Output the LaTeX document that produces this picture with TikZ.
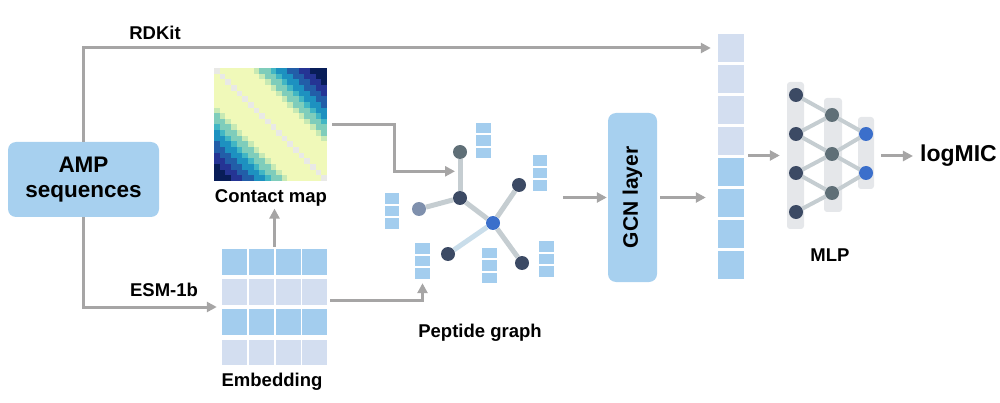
\documentclass[tikz,border=0pt]{standalone}
\usepackage{fontspec}
\setmainfont{Liberation Sans}
\usetikzlibrary{arrows.meta,calc,positioning}

\begin{document}
\begin{tikzpicture}[x=1pt,y=-1pt,
  arr/.style={draw=arrowgray,line width=3pt,-{Triangle[length=10pt,width=10pt]}},
  lbl/.style={font=\fontsize{18.5}{21}\selectfont\bfseries,inner sep=2pt},
  scell/.style={fill=cellblue,minimum width=14.5pt,minimum height=10.5pt,inner sep=0},
  vcell/.style={minimum width=26pt,minimum height=28pt,inner sep=0},
  gnode/.style={circle,minimum size=14pt,inner sep=0},
  gedge/.style={draw=edgegray,line width=5pt},
  mcol/.style={fill=colgray,rounded corners=3pt,inner sep=0}]
\definecolor{boxblue}{HTML}{A7D0EF};
\definecolor{cellblue}{HTML}{A3CDEE};
\definecolor{cellpale}{HTML}{D3DEF0};
\definecolor{arrowgray}{HTML}{A6A5A5};
\definecolor{edgegray}{HTML}{C5CDD1};
\definecolor{edgeblue}{HTML}{C9DDEA};
\definecolor{nodenavy}{HTML}{3C4A64};
\definecolor{nodeslate}{HTML}{5F6F77};
\definecolor{nodelight}{HTML}{7F90AD};
\definecolor{nodeblue}{HTML}{3B6FCB};
\definecolor{colgray}{HTML}{E5E7EA};
\definecolor{cmdiag}{HTML}{E9E9E6};
\definecolor{cmA}{HTML}{F0F9B9};
\definecolor{cmB}{HTML}{C7E9B4};
\definecolor{cmC}{HTML}{7FCDBB};
\definecolor{cmD}{HTML}{41B6C4};
\definecolor{cmE}{HTML}{1D91C0};
\definecolor{cmF}{HTML}{225EA8};
\definecolor{cmG}{HTML}{253494};
\definecolor{cmH}{HTML}{081D58};
\useasboundingbox (0,0) rectangle (1000,403);

% input box
\node [fill=boxblue,rounded corners=8pt,minimum width=151pt,minimum height=75pt,align=center,
  font=\fontsize{22.5}{25}\selectfont\bfseries] (amp) at (83.5,179.5) {AMP\\sequences};

% contact map
\foreach \i in {0,...,19}{
  \foreach \j in {0,...,19}{
    \pgfmathtruncatemacro\d{abs(\i-\j)}
    \ifcase\d \def\cc{cmdiag}\or \def\cc{cmA}\or \def\cc{cmA}\or \def\cc{cmA}\or \def\cc{cmA}\or
      \def\cc{cmA}\or \def\cc{cmA}\or \def\cc{cmB}\or \def\cc{cmC}\or \def\cc{cmC}\or
      \def\cc{cmD}\or \def\cc{cmE}\or \def\cc{cmE}\or \def\cc{cmF}\or \def\cc{cmF}\or
      \def\cc{cmG}\or \def\cc{cmG}\else \def\cc{cmH}\fi
    \fill[\cc] ({214+\j*5.65},{68+\i*5.65}) rectangle ++(5.7,5.7);
  }}
\node [minimum size=113pt,inner sep=0] (cmap) at (270.5,124.5) {};
\node [lbl] (cmlbl) at (271,198) {Contact map};

% embedding
\node [minimum width=105pt,minimum height=116pt,inner sep=0] (emb) at (274.5,307) {};
\foreach \r/\c in {1/cellblue,2/cellpale,3/cellblue,4/cellpale}{
  \foreach \k in {1,...,4}{
    \fill[\c] ({222+(\k-1)*26.8},{249+(\r-1)*30.2}) rectangle ++(25,25.5);
  }}
\node [lbl] (emblbl) at (272,382) {Embedding};

% peptide graph
\node [gnode,fill=nodeslate] (g1) at (460,152) {};
\node [gnode,fill=nodenavy] (g2) at (460,198) {};
\node [gnode,fill=nodelight] (g3) at (419,209) {};
\node [gnode,fill=nodeblue] (g4) at (493,223) {};
\node [gnode,fill=nodenavy] (g5) at (519,185) {};
\node [gnode,fill=nodenavy] (g6) at (448,254) {};
\node [gnode,fill=nodenavy] (g7) at (522,263) {};
\draw [gedge] (g1) -- (g2);
\draw [gedge] (g2) -- (g3);
\draw [gedge] (g2) -- (g4);
\draw [gedge] (g4) -- (g5);
\draw [gedge] (g4) -- (g7);
\draw [gedge,draw=edgeblue] (g4) -- (g6);
\coordinate (gin) at ($(g1)!0.42!(g2)$);
\foreach \nm/\x/\y in {s1/483.5/140.5,s2/540/173,s3/392/211,s4/422.5/261,s5/489.5/265.5,s6/546.5/259}{
  \node [minimum width=14.5pt,minimum height=36pt,inner sep=0] (\nm) at (\x,\y) {};
  \foreach \k in {-1,0,1}
    \node [scell] at (\x,{\y+12.3*\k}) {};
}
\node [lbl] (pglbl) at (480,333) {Peptide graph};

% GCN layer
\node [fill=boxblue,rounded corners=8pt,minimum width=49pt,minimum height=169pt] (gcn) at (632.5,197.5) {};
\node [font=\fontsize{21}{24}\selectfont\bfseries,rotate=90] (gcnt) at (gcn) {GCN layer};

% feature vector
\foreach \k in {1,...,4}
  \node [vcell,fill=cellpale] (v\k) at (731,{48+31*(\k-1)}) {};
\foreach \k in {5,...,8}
  \node [vcell,fill=cellblue] (v\k) at (731,{48+31*(\k-1)}) {};

% MLP
\node [mcol,minimum width=17pt,minimum height=147pt] (c1) at (795.5,155.5) {};
\node [mcol,minimum width=18pt,minimum height=114pt] (c2) at (833,155) {};
\node [mcol,minimum width=16pt,minimum height=72pt] (c3) at (866,153) {};
\foreach \k/\y in {1/95,2/134,3/173,4/212}
  \node [gnode,fill=nodenavy] (m1\k) at (796,\y) {};
\foreach \k/\y in {1/115,2/154,3/193}
  \node [gnode,fill=nodeslate] (m2\k) at (832,\y) {};
\foreach \k/\y in {1/134,2/173}
  \node [gnode,fill=nodeblue] (m3\k) at (866,\y) {};
\foreach \a/\b in {11/21,12/21,12/22,13/22,13/23,14/23,21/31,22/31,22/32,23/32}
  \draw [draw=edgegray,line width=4pt] (m\a) -- (m\b);
\node [lbl] (mlplbl) at (830,255) {MLP};
\node [font=\fontsize{23}{26}\selectfont\bfseries,inner sep=2pt] (out) at (958.5,156) {logMIC};

% connectors
\draw [arr,shorten >=7pt] (amp.north) |- (v1.west);
\node [lbl] (rdkit) at (155,33) {RDKit};
\draw [arr,shorten >=5pt] (amp.south) |- (emb.west);
\node [lbl] (esm) at (164,290) {ESM-1b};
\draw [arr,shorten <=2pt] (emb.north) -- (emb.north |- cmlbl.south);
\draw [arr,shorten <=5pt,shorten >=5pt] (cmap.east) -| ([xshift=-66pt]gin) -- (gin);
\draw [arr,shorten <=3pt,shorten >=4pt] ([yshift=7pt]emb.east) -| (s4.south);
\draw [arr,shorten <=9pt,shorten >=1pt] (s6.east |- gcn.west) -- (gcn.west);
\draw [arr,shorten <=3pt,shorten >=12pt] (gcn.east) -- (gcn.east -| v1.west);
\draw [arr,shorten <=4pt,shorten >=7pt] (v1.east |- c1.west) -- (c1.west);
\draw [arr,shorten <=7pt,shorten >=5pt] (out.west -| c3.east) -- (out.west);
\end{tikzpicture}
\end{document}
